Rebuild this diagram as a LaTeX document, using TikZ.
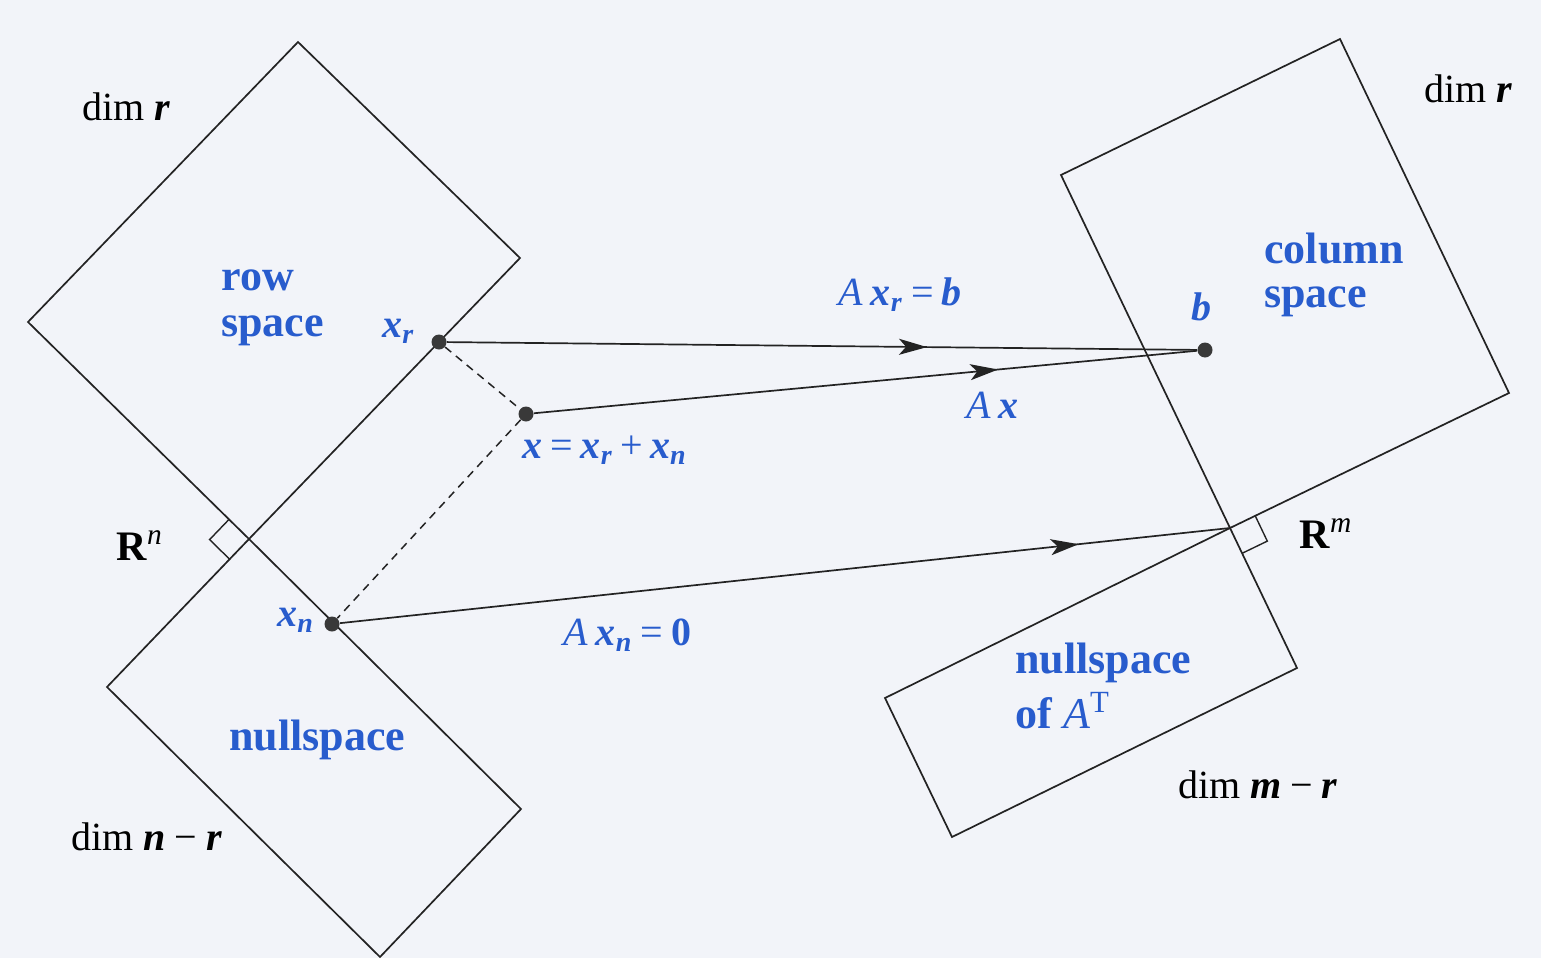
\documentclass[tikz,border=0pt]{standalone}
\usepackage{fontspec}
\setmainfont{LiberationSerif}[Extension=.ttf,UprightFont=*-Regular,BoldFont=*-Bold,ItalicFont=*-Italic,BoldItalicFont=*-BoldItalic]
\usetikzlibrary{arrows.meta,decorations.markings}
\definecolor{lbl}{RGB}{40,92,205}
\definecolor{bgc}{RGB}{242,244,249}
\definecolor{ink}{RGB}{35,35,35}
\newcommand{\bx}[1]{\textbf{\textit{#1}}}
\begin{document}
\begin{tikzpicture}[x=0.5pt,y=-0.5pt,
  edge/.style={draw=ink,line width=0.85pt,line join=miter},
  conn/.style={draw=ink,line width=0.85pt},
  dashconn/.style={draw=ink,line width=0.75pt,dash pattern=on 4pt off 3pt},
  dotnode/.style={circle,fill=ink!90,inner sep=0pt,minimum size=7.5pt},
  midarrow/.style={postaction={decorate},decoration={markings,
     mark=at position #1 with {\arrow{Stealth[length=14pt,width=8pt,inset=3.5pt]}}}},
  blk/.style={font=\fontsize{20}{24}\selectfont,text=black,inner sep=0pt,anchor=base west},
  blue/.style={font=\fontsize{22}{26}\selectfont\bfseries,text=lbl,inner sep=0pt,anchor=base west},
  mathlbl/.style={font=\fontsize{20}{24}\selectfont,text=lbl,inner sep=0pt,anchor=base west}]
\fill[bgc] (0,0) rectangle (1541,958);
\useasboundingbox (0,0) rectangle (1541,958);
% corners
\coordinate (RT) at (298,42);
\coordinate (RL) at (28,322);
\coordinate (RR) at (520,258);
\coordinate (O) at (249,539);
\coordinate (NL) at (107,687);
\coordinate (NB) at (380,957);
\coordinate (NR) at (521,809);
\coordinate (CT) at (1340,39);
\coordinate (CL) at (1061,175);
\coordinate (CR) at (1509,393);
\coordinate (P) at (1230,528);
\coordinate (QR) at (1297,668);
\coordinate (QB) at (952,837);
\coordinate (QL) at (885,698);
% rectangles
\draw[edge] (RT) -- (RR) -- (O) -- (RL) -- cycle;
\draw[edge] (O) -- (NR) -- (NB) -- (NL) -- cycle;
\draw[edge] (CT) -- (CR) -- (P) -- (CL) -- cycle;
\draw[edge] (P) -- (QR) -- (QB) -- (QL) -- cycle;
% right angle marks
\draw[edge,line width=0.7pt] (229,519.4) -- (209.6,539.6) -- (229.6,559.2);
\draw[edge,line width=0.7pt] (1255.2,515.8) -- (1267.3,541.1) -- (1242.1,553.3);
% dots
\node[dotnode] (xr) at (439,342) {};
\node[dotnode] (x) at (526,414) {};
\node[dotnode] (xn) at (332,624) {};
\node[dotnode] (b) at (1205,350) {};
% connectors
\draw[dashconn] (xr) -- (x);
\draw[dashconn] (x) -- (xn);
\draw[conn,midarrow=0.64] (xr) -- (b);
\draw[conn,midarrow=0.70] (x) -- (b);
\draw[conn,midarrow=0.83] (xn) -- (P);
% labels
\node[blk] (dimr1) at (82,120) {dim \bx{r}};
\node[blk] (dimr2) at (1424,102) {dim \bx{r}};
\node[blk] (dimnr) at (71,850) {dim \bx{n}\hspace{0.22em}−\hspace{0.22em}\bx{r}};
\node[blk] (dimmr) at (1178,798) {dim \bx{m}\hspace{0.22em}−\hspace{0.22em}\bx{r}};
\node[blk,font=\fontsize{21}{24}\selectfont] (Rn) at (116,560) {\textbf{R}\textsuperscript{\textit{n}}};
\node[blk,font=\fontsize{21}{24}\selectfont] (Rm) at (1299,548) {\textbf{R}\textsuperscript{\textit{m}}};
\node[blue] (row1) at (221,290) {row};
\node[blue] (row2) at (221,336) {space};
\node[blue] (col1) at (1264,263) {column};
\node[blue] (col2) at (1264,307) {space};
\node[blue] (ns1) at (229,750) {nullspace};
\node[blue] (lns1) at (1015,673) {nullspace};
\node[blue] (lns2) at (1015,728) {of {\mdseries\textit{A}}\textsuperscript{\mdseries T}};
\node[mathlbl] (lxr) at (382,337) {\bx{x}\textsubscript{\bx{r}}};
\node[mathlbl] (lxn) at (277,626) {\bx{x}\textsubscript{\bx{n}}};
\node[mathlbl] (lb) at (1191,320) {\bx{b}};
\node[mathlbl] (lsum) at (522,458) {\bx{x}\hspace{0.2em}=\hspace{0.2em}\bx{x}\textsubscript{\bx{r}}\hspace{0.18em}+\hspace{0.18em}\bx{x}\textsubscript{\bx{n}}};
\node[mathlbl] (lAxr) at (838,305) {\textit{A}\hspace{0.2em}\bx{x}\textsubscript{\bx{r}}\hspace{0.2em}=\hspace{0.2em}\bx{b}};
\node[mathlbl] (lAx) at (966,418) {\textit{A}\hspace{0.2em}\bx{x}};
\node[mathlbl] (lAxn) at (563,645) {\textit{A}\hspace{0.2em}\bx{x}\textsubscript{\bx{n}}\hspace{0.2em}=\hspace{0.2em}\textbf{0}};
\end{tikzpicture}
\end{document}
